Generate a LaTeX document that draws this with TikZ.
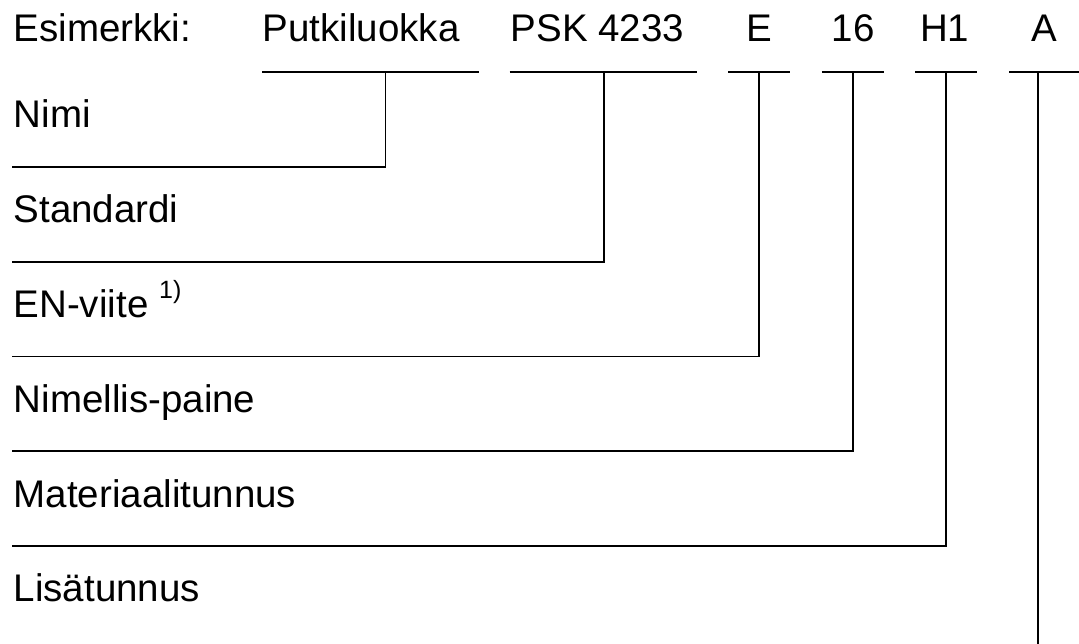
\documentclass[tikz,border=0pt]{standalone}
\usepackage{fontspec}
\setmainfont{Liberation Sans}
\begin{document}
\begin{tikzpicture}[x=1pt,y=-1pt,
  txt/.style={inner sep=0pt,font=\fontsize{38.5}{42}\selectfont},
  lbl/.style={txt,anchor=base west},
  ctr/.style={txt,anchor=base},
  ln/.style={line width=1.8pt,line cap=butt,line join=miter}]
\useasboundingbox (0,0) rectangle (1079,644);
% top row
\node[lbl] (ex) at (13.5,41.7) {Esimerkki:};
\node[lbl] (put) at (262.5,41.7) {Putkiluokka};
\node[lbl] (psk) at (510.5,41.7) {PSK 4233};
\node[ctr] (e) at (759.3,41.7) {E};
\node[ctr] (p16) at (853.3,41.7) {16};
\node[ctr] (h1) at (944.8,41.7) {H1};
\node[ctr] (a) at (1044.5,41.7) {A};
% left labels
\node[lbl] (nimi) at (13.5,128) {Nimi};
\node[lbl] (std) at (13.5,222.7) {Standardi};
\node[lbl] (en) at (13.5,317.5) {EN-viite \raisebox{19.5pt}{\fontsize{25}{27}\selectfont 1)}};
\node[lbl] (np) at (13.5,412.2) {Nimellis-paine};
\node[lbl] (mat) at (13.5,507) {Materiaalitunnus};
\node[lbl] (lis) at (13.5,601.7) {Lisätunnus};
% bars under the code parts
\coordinate (b1l) at (262,72); \coordinate (b1r) at (479,72); \coordinate (b1m) at (385.5,72);
\coordinate (b2l) at (509.7,72); \coordinate (b2r) at (697.4,72); \coordinate (b2m) at (603.6,72);
\coordinate (b3l) at (728.4,72); \coordinate (b3r) at (790.3,72); \coordinate (b3m) at (759.3,72);
\coordinate (b4l) at (821.9,72); \coordinate (b4r) at (883.8,72); \coordinate (b4m) at (852.8,72);
\coordinate (b5l) at (915.4,72); \coordinate (b5r) at (977.3,72); \coordinate (b5m) at (946.3,72);
\coordinate (b6l) at (1009.2,72); \coordinate (b6r) at (1079,72); \coordinate (b6m) at (1037.8,72);
\foreach \i in {1,...,6} { \draw[ln] (b\i l) -- (b\i r); }
% leader lines
\coordinate (e1) at (11.7,167);
\coordinate (e2) at (11.7,261.75);
\coordinate (e3) at (11.7,356.5);
\coordinate (e4) at (11.7,451.25);
\coordinate (e5) at (11.7,546);
\coordinate (e6) at (1037.8,644);
\draw[ln] (b1m) |- (e1);
\draw[ln] (b2m) |- (e2);
\draw[ln] (b3m) |- (e3);
\draw[ln] (b4m) |- (e4);
\draw[ln] (b5m) |- (e5);
\draw[ln] (b6m) -- (e6);
\end{tikzpicture}
\end{document}
